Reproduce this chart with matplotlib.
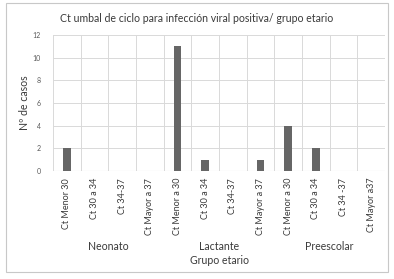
import matplotlib
matplotlib.use("Agg")
import matplotlib.pyplot as plt
from matplotlib.patches import Rectangle

plt.rcParams['font.family'] = ['Lato', 'DejaVu Sans']

categorias = ["Ct Menor 30", "Ct 30 a 34", "Ct 34-37", "Ct Mayor a 37",
              "Ct Menor a 30", "Ct 30 a 34", "Ct 34-37", "Ct Mayor a 37",
              "Ct Menor a 30", "Ct 30 a 34", "Ct 34 -37", "Ct Mayor a37"]
casos = [2, 0, 0, 0, 11, 1, 0, 1, 4, 2, 0, 0]
grupos = ["Neonato", "Lactante", "Preescolar"]

fig = plt.figure(figsize=(3.94, 2.79), dpi=100)
fig.patches.append(Rectangle((6 / 394, 7 / 279), 382 / 394, 269 / 279,
                             transform=fig.transFigure, fill=False,
                             edgecolor="#c8c8c8", linewidth=0.8))

ax = fig.add_axes([53 / 394, 1 - 171 / 279, 332 / 394, 136 / 279])
x = list(range(len(casos)))
ax.bar(x, casos, width=0.27, color="#666666", zorder=3)

ax.set_xlim(-0.5, len(casos) - 0.5)
ax.set_ylim(0, 12)
ax.set_yticks(range(0, 13, 2))
ax.tick_params(axis="y", labelsize=5, colors="#595959", length=0, pad=9)
ax.set_xticks([i + 0.5 for i in range(len(casos) - 1)])
ax.set_xticklabels([])
ax.tick_params(axis="x", length=0)
ax.grid(True, color="#d9d9d9", linewidth=0.7, zorder=0)
for s in ax.spines.values():
    s.set_visible(False)
ax.axhline(0, color="#d9d9d9", linewidth=0.8, zorder=2)
ax.axvline(-0.5, color="#d9d9d9", linewidth=0.7, zorder=0)
ax.axvline(len(casos) - 0.5, color="#d9d9d9", linewidth=0.7, zorder=0)

for i, c in enumerate(categorias):
    ax.text(i, -0.6, c, rotation=90, ha="center", va="top", fontsize=6.5,
            color="#3a3a3a", clip_on=False)

trans = ax.get_xaxis_transform()
for g, nombre in enumerate(grupos):
    ax.text(g * 4 + 1.5, 1 - (247 - 35) / 136, nombre, ha="center", va="center",
            fontsize=7.6, color="#3a3a3a", transform=trans, clip_on=False)
ax.text(5.5, 1 - (261 - 35) / 136, "Grupo etario", ha="center", va="center",
        fontsize=7.6, color="#3a3a3a", transform=trans, clip_on=False)

ax.set_ylabel("Nº de casos", fontsize=7.6, color="#3a3a3a")
ax.yaxis.set_label_coords(-0.068, 0.5)
fig.text(0.5, 1 - 19 / 279, "Ct umbal de ciclo para infección viral positiva/ grupo etario",
         ha="center", va="center", fontsize=7.6, color="#3a3a3a")

plt.savefig("out.png", dpi=100)
